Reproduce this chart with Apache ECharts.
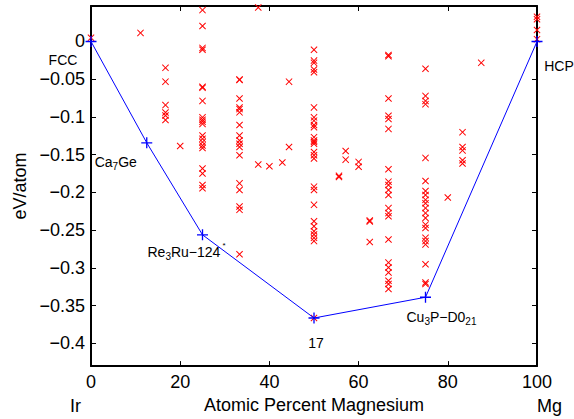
<!DOCTYPE html>
<html>
<head>
<meta charset="utf-8">
<script src="https://cdn.jsdelivr.net/npm/echarts@6/dist/echarts.min.js"></script>
<style>
  html, body { margin: 0; padding: 0; background: #fff; }
  #chart { width: 574px; height: 419px; }
</style>
</head>
<body>
<div id="chart"></div>
<script>
// Formation energies (eV/atom), grouped by composition (at.% Mg)
const compositions = [0, 11.1, 16.7, 20, 25, 33.3, 37.5, 40, 42.9, 44.4, 50, 55.6, 57.1, 60, 62.5, 66.7, 75, 80, 83.3, 87.5, 100];
const energies = [
  [0.0049],
  [0.0114],
  [-0.0349, -0.0532, -0.0843, -0.0940, -0.0980, -0.1040],
  [-0.1385],
  [0.0416, 0.0206, -0.0085, -0.0109, -0.0601, -0.0612, -0.0787, -0.1005, -0.1036, -0.1062, -0.1092,
   -0.1246, -0.1290, -0.1333, -0.1377, -0.1411, -0.1683, -0.1748, -0.1902, -0.1945],
  [-0.0502, -0.0509, -0.0756, -0.0873, -0.0896, -0.0939, -0.1106, -0.1246, -0.1311, -0.1355, -0.1398,
   -0.1508, -0.1879, -0.1967, -0.2185, -0.2230, -0.2819],
  [0.0451, -0.1630],
  [-0.1652],
  [-0.1604],
  [-0.0532, -0.1398],
  [-0.0109, -0.0253, -0.0283, -0.0371, -0.0407, -0.0873, -0.1005, -0.1049, -0.1106, -0.1136, -0.1267,
   -0.1311, -0.1332, -0.1355, -0.1464, -0.1508, -0.1551, -0.1923, -0.1967, -0.2164, -0.2382, -0.2447,
   -0.2513, -0.2557, -0.2601, -0.2644, -0.3663],
  [-0.1780, -0.1795],
  [-0.1450, -0.1565],
  [-0.1595, -0.1660],
  [-0.2370, -0.2385, -0.2657],
  [-0.0180, -0.0195, -0.0755, -0.0984, -0.1027, -0.1158, -0.1692, -0.1857, -0.1902, -0.1967, -0.2033,
   -0.2207, -0.2273, -0.2316, -0.2623, -0.2929, -0.2994, -0.3060, -0.3169, -0.3213, -0.3279],
  [-0.0362, -0.0721, -0.0787, -0.0830, -0.1542, -0.1849, -0.1980, -0.2033, -0.2098, -0.2142, -0.2207,
   -0.2273, -0.2338, -0.2426, -0.2470, -0.2601, -0.2644, -0.2688, -0.2951, -0.3191, -0.3213],
  [-0.2067],
  [-0.1201, -0.1398, -0.1443, -0.1574, -0.1617],
  [-0.0283],
  [0.0328, 0.0294, 0.0153, 0.0031]
];

// Convex hull
const hullX = [0, 12.5, 25, 50, 75, 100];
const hullY = [0, -0.1342, -0.2561, -0.3663, -0.3388, 0];
const hullNames = ["FCC", "Ca{s|7}Ge", "Re{s|3}Ru\u2212124{t|*}", "17", "Cu{s|3}P\u2212D0{s|21}", "HCP"];

// Tick values
const xTicks = [0, 20, 40, 60, 80, 100];
const yTicks = [-0.4, -0.35, -0.3, -0.25, -0.2, -0.15, -0.1, -0.05, 0];

// label placement relative to each hull point (px)
const labelOffsets = [[-28, 19], [-31, 19], [-16, 17], [2, 25], [16, 20], [22, 25]];

const FONT = "Liberation Sans, Arial, Helvetica, sans-serif";

// thin filled "x" and "+" markers
const CROSS_X = "path://M0,1L1,0L5,4L9,0L10,1L6,5L10,9L9,10L5,6L1,10L0,9L4,5Z";
const PLUS = "path://M4.4,0H5.6V4.4H10V5.6H5.6V10H4.4V5.6H0V4.4H4.4Z";

const structs = [];
compositions.forEach((c, i) => {
  energies[i].forEach(e => structs.push({ value: [c, e], itemStyle: { color: "#ff0000" } }));
});

const hullData = hullX.map((x, i) => ({
  value: [x, hullY[i]],
  label: {
    show: true,
    formatter: hullNames[i],
    position: "inside",
    offset: labelOffsets[i]
  }
}));

const chart = echarts.init(document.getElementById("chart"), null, { renderer: "svg" });

function tickStyle(extra) {
  return Object.assign({ show: true, inside: true, length: 5, lineStyle: { color: "#000", width: 1 } }, extra || {});
}
const lineStyleAxis = { show: true, onZero: false, lineStyle: { color: "#000", width: 2 } };

chart.setOption({
  animation: false,
  backgroundColor: "#fff",
  grid: { left: 91, top: 6, width: 446, height: 363 },
  textStyle: { fontFamily: FONT },
  xAxis: [
    {
      type: "value", min: 0, max: 100, interval: 20, position: "bottom",
      name: "Atomic Percent Magnesium", nameLocation: "middle", nameGap: 28,
      nameTextStyle: { fontSize: 18, color: "#000", fontFamily: FONT },
      axisLine: lineStyleAxis,
      axisTick: tickStyle(),
      splitLine: { show: false },
      axisLabel: { color: "#000", fontSize: 18, margin: 7, fontFamily: FONT }
    },
    {
      type: "value", min: 0, max: 100, interval: 20, position: "top",
      axisLine: lineStyleAxis,
      axisTick: tickStyle(),
      splitLine: { show: false },
      axisLabel: { show: false }
    }
  ],
  yAxis: [
    {
      type: "value", min: -0.43, max: 0.047, position: "left",
      name: "eV/atom", nameLocation: "middle", nameGap: 57,
      nameTextStyle: { fontSize: 18, color: "#000", fontFamily: FONT },
      axisLine: lineStyleAxis,
      axisTick: tickStyle({ customValues: yTicks }),
      splitLine: { show: false },
      axisLabel: {
        color: "#000", fontSize: 18, lineHeight: 16, margin: 6, fontFamily: FONT,
        customValues: yTicks,
        formatter: v => String(Math.round(v * 100) / 100).replace("-", "\u2212")
      }
    },
    {
      type: "value", min: -0.43, max: 0.047, position: "right",
      axisLine: lineStyleAxis,
      axisTick: tickStyle({ customValues: yTicks }),
      splitLine: { show: false },
      axisLabel: { show: false }
    }
  ],
  series: [
    {
      name: "structures",
      type: "scatter",
      data: structs,
      symbol: CROSS_X,
      symbolSize: 7,
      itemStyle: { color: "#ff0000", borderWidth: 0, opacity: 1 },
      emphasis: { disabled: true },
      z: 2
    },
    {
      name: "hull",
      type: "line",
      data: hullData,
      symbol: PLUS,
      symbolSize: 11,
      showAllSymbol: true,
      lineStyle: { color: "#0000ff", width: 1 },
      itemStyle: { color: "#0000ff", borderWidth: 0 },
      emphasis: { disabled: true },
      label: {
        color: "#000",
        fontSize: 14,
        lineHeight: 14,
        fontFamily: FONT,
        rich: {
          s: { fontSize: 10, lineHeight: 14, fontFamily: FONT, color: "#000", padding: [9, 0, 0, 0] },
          t: { fontSize: 8, lineHeight: 14, fontFamily: FONT, color: "#000", padding: [0, 0, 12, 2] }
        }
      },
      z: 3
    }
  ],
  graphic: [
    { type: "text", left: 70, top: 397, style: { text: "Ir", fontSize: 18, fontFamily: FONT, fill: "#000" } },
    { type: "text", left: 537, top: 397, style: { text: "Mg", fontSize: 18, fontFamily: FONT, fill: "#000" } }
  ]
});
</script>
</body>
</html>
